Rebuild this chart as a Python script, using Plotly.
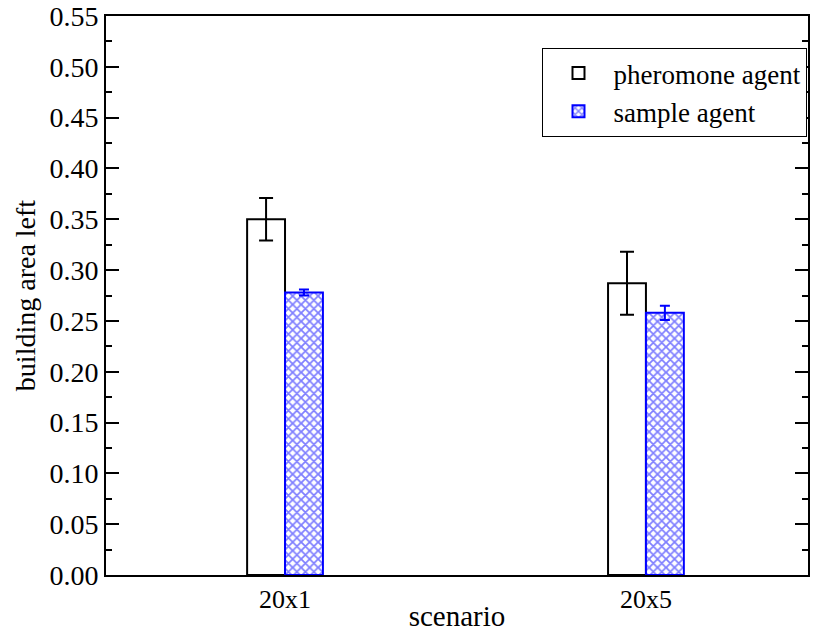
import plotly.graph_objects as go

scenarios = ["20x1", "20x5"]
pheromone = [0.350, 0.287]
pheromone_err = [0.021, 0.031]
sample = [0.278, 0.258]
sample_err = [0.003, 0.007]

xpos = list(range(len(scenarios)))
SERIF = "Liberation Serif, Times New Roman, serif"

fig = go.Figure()
fig.add_trace(go.Bar(
    x=xpos, y=pheromone, name="pheromone agent",
    marker=dict(color="white", line=dict(color="black", width=2)),
    error_y=dict(type="data", array=pheromone_err, color="black", thickness=2, width=7),
))
fig.add_trace(go.Bar(
    x=xpos, y=sample, name="sample agent",
    marker=dict(color="white", line=dict(color="blue", width=2),
                pattern=dict(shape="x", fgcolor="blue", bgcolor="white", size=6, solidity=0.5)),
    error_y=dict(type="data", array=sample_err, color="blue", thickness=2, width=5),
))

fig.update_layout(
    width=819, height=632,
    margin=dict(l=106, r=11, t=16, b=57, autoexpand=False),
    barmode="group", bargap=0.79, bargroupgap=0,
    plot_bgcolor="white", paper_bgcolor="white",
    font=dict(family=SERIF, size=26, color="black"),
    showlegend=True,
    legend=dict(x=0.999, y=0.943, xanchor="right", yanchor="top",
                bordercolor="black", borderwidth=1.2, bgcolor="white",
                font=dict(family=SERIF, size=27, color="black"), tracegroupgap=0, itemwidth=60),
)
fig.update_xaxes(
    range=[-0.496, 1.449], tickvals=xpos, ticktext=scenarios,
    showline=True, linecolor="black", linewidth=2, mirror=True,
    ticks="", showgrid=False, zeroline=False, automargin=False,
    title=dict(text="scenario", font=dict(family=SERIF, size=29, color="black"), standoff=0),
    tickfont=dict(family=SERIF, size=26, color="black"),
)
fig.update_yaxes(
    range=[0, 0.55], dtick=0.05, tickformat=".2f", ticklabeloverflow="allow",
    showline=True, linecolor="black", linewidth=2, mirror="allticks",
    ticks="inside", ticklen=13, tickwidth=1.5, tickcolor="black",
    minor=dict(ticks="inside", ticklen=6, tickwidth=1.5, tickcolor="black", dtick=0.025, showgrid=False),
    showgrid=False, zeroline=False, automargin=False,
    title=dict(text="building area left", font=dict(family=SERIF, size=28, color="black"), standoff=6),
    tickfont=dict(family=SERIF, size=28, color="black"),
)

fig.write_html("out.html", config={"displayModeBar": False},
               post_script="document.body.style.margin='0';")
